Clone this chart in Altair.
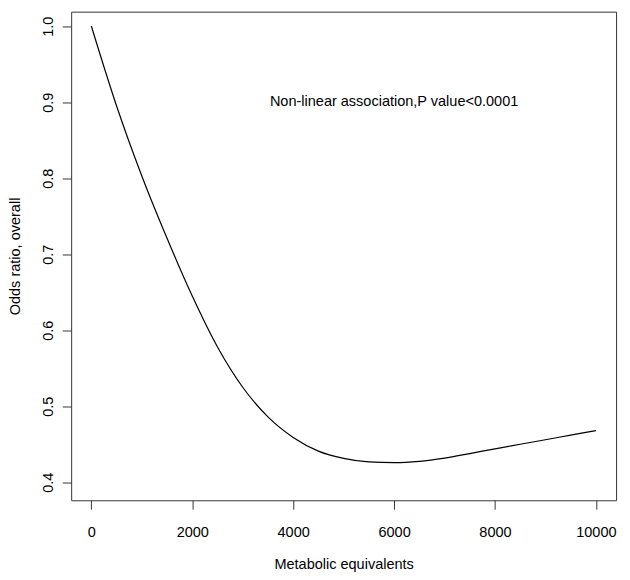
import altair as alt
import pandas as pd

# Curve (Metabolic equivalents vs odds ratio)
met = [0, 500, 1000, 1500, 2000, 2500, 3000, 3500, 4000, 4500, 5000, 5500,
       6000, 6500, 7000, 7500, 8000, 8500, 9000, 9500, 10000]
odds = [1.0, 0.895, 0.803, 0.721, 0.645, 0.578, 0.525, 0.486, 0.459, 0.441,
        0.4315, 0.4268, 0.4258, 0.4275, 0.4318, 0.4378, 0.4440, 0.4500,
        0.4560, 0.4620, 0.468]

x_ticks = [0, 2000, 4000, 6000, 8000, 10000]
y_ticks = [0.4, 0.5, 0.6, 0.7, 0.8, 0.9, 1.0]

annotation = ["Non-linear association,P value<0.0001"]
ann_x = [6000]
ann_y = [0.9]

FONT = "Liberation Sans"
FS = 14.7

df = pd.DataFrame({"met": met, "odds": odds})
ann = pd.DataFrame({"x": ann_x, "y": ann_y, "t": annotation})

xs = alt.Scale(domain=[-400, 10400], nice=False, zero=False)
ys = alt.Scale(domain=[0.3763, 1.0191], nice=False, zero=False)

H = 495
W = 552

line = alt.Chart(df).mark_line(color="black", strokeWidth=1.2, interpolate="monotone").encode(
    x=alt.X("met:Q", scale=xs, axis=alt.Axis(
        values=x_ticks, format="d", title="Metabolic equivalents",
        domain=False, grid=False, ticks=True, tickSize=9, tickColor="#333",
        labelFont=FONT, labelFontSize=FS, labelColor="black",
        labelBaseline="middle", labelPadding=23.5, labelFlush=False,
        titleFont=FONT, titleFontSize=FS, titleFontWeight="normal", titleColor="black",
        titleBaseline="middle", titleY=65)),
    y=alt.Y("odds:Q", scale=ys, axis=alt.Axis(
        values=y_ticks, format=".1f", title="Odds ratio, overall",
        domain=False, grid=False, ticks=True, tickSize=9, tickColor="#333",
        labelFont=FONT, labelFontSize=FS, labelColor="black",
        labelAngle=-90, labelAlign="center", labelBaseline="middle",
        labelPadding=14, labelFlush=False,
        titleFont=FONT, titleFontSize=FS, titleFontWeight="normal", titleColor="black",
        titleAngle=-90, titleBaseline="middle", titleAlign="center",
        titleX=-56, titleY=H / 2)),
)

text = alt.Chart(ann).mark_text(font=FONT, fontSize=FS, color="black").encode(
    x=alt.X("x:Q", scale=xs),
    y=alt.Y("y:Q", scale=ys),
    text="t:N",
)

chart = alt.layer(line, text).properties(
    width=W, height=H,
    padding={"left": 64, "top": 0, "right": 6, "bottom": 75},
    autosize=alt.AutoSizeParams(type="none"),
).configure_view(stroke="#333", strokeWidth=1)

chart.save("out.html", embed_options={"renderer": "svg", "actions": False})
